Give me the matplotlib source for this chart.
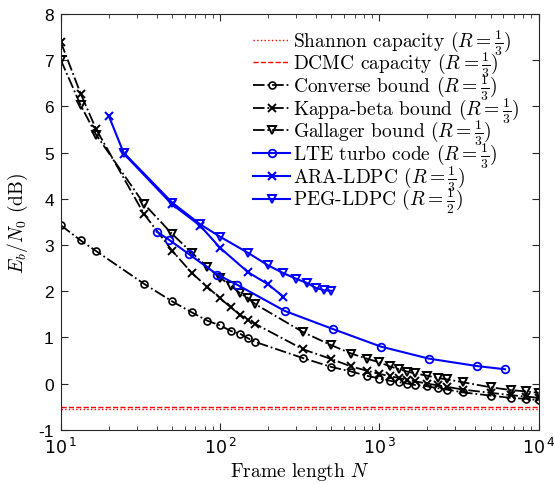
import numpy as np
import matplotlib
matplotlib.use('Agg')
import matplotlib.pyplot as plt

plt.rcParams['mathtext.fontset'] = 'cm'
plt.rcParams['axes.unicode_minus'] = False

# frame lengths used for the three bounds
N_bound = [10, 13.33, 16.67, 33.33, 50, 66.67, 83.33, 100, 116.67, 133.33, 150, 166.67,
           333.33, 500, 666.67, 833.33, 1000, 1166.67, 1333.33, 1500, 1666.67, 2000,
           2333.33, 2666.67, 3333.33, 5000, 6666.67, 8333.33, 10000]
converse = [3.43, 3.10, 2.87, 2.16, 1.78, 1.54, 1.36, 1.26, 1.14, 1.08, 0.98, 0.90,
            0.55, 0.36, 0.26, 0.17, 0.11, 0.06, 0.03, 0.00, -0.03, -0.06,
            -0.10, -0.13, -0.19, -0.26, -0.31, -0.33, -0.36]
kappa = [7.40, 6.28, 5.51, 3.67, 2.88, 2.39, 2.09, 1.85, 1.65, 1.49, 1.38, 1.29,
         0.74, 0.53, 0.37, 0.28, 0.21, 0.16, 0.12, 0.08, 0.05, 0.00,
         -0.04, -0.07, -0.13, -0.20, -0.25, -0.28, -0.31]
gallager = [7.01, 6.03, 5.39, 3.89, 3.24, 2.83, 2.52, 2.29, 2.12, 1.96, 1.85, 1.72,
            1.11, 0.83, 0.65, 0.54, 0.46, 0.37, 0.31, 0.26, 0.22, 0.17,
            0.12, 0.09, 0.03, -0.08, -0.14, -0.17, -0.20]

N_lte = [40, 48, 64, 96, 128, 256, 512, 1024, 2048, 4096, 6144]
lte = [3.29, 3.11, 2.80, 2.36, 2.14, 1.57, 1.18, 0.80, 0.54, 0.38, 0.31]

N_ara = [20, 25, 50, 75, 100, 150, 200, 250]
ara = [5.80, 4.97, 3.88, 3.42, 2.94, 2.41, 2.15, 1.88]

N_peg = [25, 50, 75, 100, 150, 200, 250, 300, 350, 400, 450, 500]
peg = [4.99, 3.92, 3.45, 3.18, 2.83, 2.56, 2.39, 2.27, 2.18, 2.07, 2.02, 2.01]

shannon = -0.55
dcmc = -0.50
x_range = [10, 10000]

fig = plt.figure(figsize=(5.54, 4.85), dpi=100)
ax = fig.add_axes([0.1096, 0.1118, 0.8628, 0.8571])

frac = r'$(R=\frac{1}{3})$'
ax.plot(x_range, [shannon, shannon], ':', color='red', lw=1.0, label='Shannon capacity ' + frac)
ax.plot(x_range, [dcmc, dcmc], '--', color='red', lw=1.0, label='DCMC capacity ' + frac)
ax.plot(N_bound, converse, '-.', color='black', lw=1.3, marker='o', ms=5, mfc='none', mew=1.2,
        label='Converse bound ' + frac)
ax.plot(N_bound, kappa, '-.', color='black', lw=1.3, marker='x', ms=6, mew=1.4,
        label='Kappa-beta bound ' + frac)
ax.plot(N_bound, gallager, '-.', color='black', lw=1.3, marker='v', ms=6, mfc='none', mew=1.4,
        label='Gallager bound ' + frac)
ax.plot(N_lte, lte, '-', color='blue', lw=1.5, marker='o', ms=5.5, mfc='none', mew=1.3,
        label='LTE turbo code ' + frac)
ax.plot(N_ara, ara, '-', color='blue', lw=1.5, marker='x', ms=6, mew=1.5,
        label='ARA-LDPC ' + frac)
ax.plot(N_peg, peg, '-', color='blue', lw=1.5, marker='v', ms=6, mfc='none', mew=1.4,
        label=r'PEG-LDPC $(R=\frac{1}{2})$')

ax.set_xscale('log')
ax.set_xlim(10, 10000)
ax.set_ylim(-1, 8)

ax.set_xticks([10, 100, 1000, 10000], [r'$10^{\,1}$', r'$10^{\,2}$', r'$10^{\,3}$', r'$10^{\,4}$'],
              math_fontfamily='dejavusans', fontsize=12.5)
ax.set_yticks(range(-1, 9), [str(v) for v in range(-1, 9)], fontfamily='Liberation Sans', fontsize=12.5)
ax.tick_params(which='both', direction='in', top=True, right=True, color='0.15')
ax.tick_params(which='major', length=5, pad=5)
ax.tick_params(which='minor', length=3)
for s in ax.spines.values():
    s.set_color('0.15')

ax.set_xlabel(r'Frame length $N$', fontfamily='cmr10', fontsize=14, labelpad=2)
ax.set_ylabel(r'$E_b/N_0$ (dB)', fontfamily='cmr10', fontsize=14, labelpad=6)

leg = ax.legend(loc='upper right', bbox_to_anchor=(0.982, 0.995), frameon=False,
                prop={'family': 'cmr10', 'size': 14}, handlelength=1.9,
                handletextpad=0.15, labelspacing=-0.36, borderaxespad=0.15)

fig.savefig('out.png', dpi=100)
